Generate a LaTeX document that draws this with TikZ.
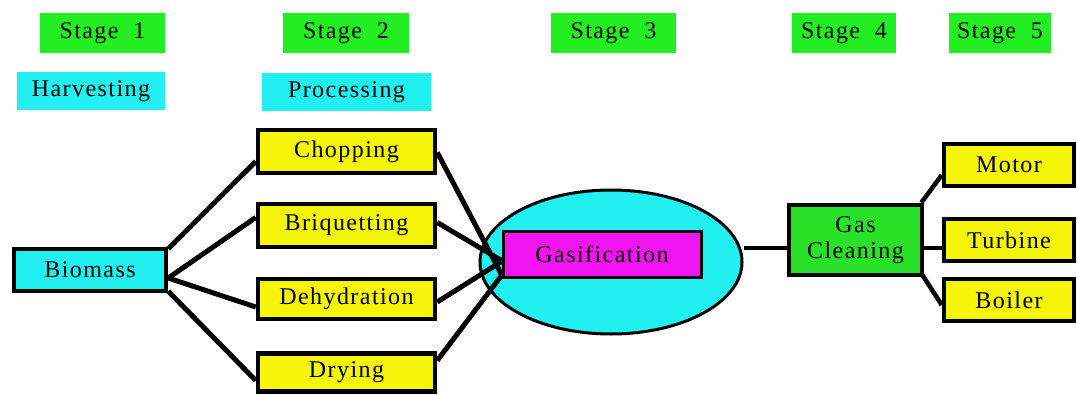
\documentclass[tikz,border=0pt]{standalone}
\usepackage{fontspec}
\setmainfont{Liberation Serif}
\newfontfamily\lblfont[LetterSpace=6]{Liberation Serif}
\usetikzlibrary{shapes.geometric}
\definecolor{stagegreen}{RGB}{34,238,34}
\definecolor{gcgreen}{RGB}{40,225,40}
\definecolor{cyanbox}{RGB}{34,240,240}
\definecolor{yelbox}{RGB}{245,245,10}
\definecolor{magbox}{RGB}{240,20,240}
\tikzset{
  lbl/.style={font=\lblfont\fontsize{24}{26}\selectfont, inner sep=0pt, align=center},
  stagebox/.style={lbl, fill=stagegreen, minimum height=40pt},
  headbox/.style={lbl, fill=cyanbox, minimum height=38pt},
  procbox/.style={lbl, fill=yelbox, draw=black, line width=4.5pt, minimum width=177pt},
  outbox/.style={lbl, fill=yelbox, draw=black, line width=4.5pt, minimum width=130pt, minimum height=42pt},
  conn/.style={line width=5pt, black}
}
\begin{document}
\begin{tikzpicture}[x=1pt,y=-1pt]
\useasboundingbox (0,0) rectangle (1078,395);
% stages
\node[stagebox, minimum width=125pt] (s1) at (102.5,33) {Stage\ \ 1};
\node[stagebox, minimum width=126pt] (s2) at (346,33) {Stage\ \ 2};
\node[stagebox, minimum width=125pt] (s3) at (613.5,33) {Stage\ \ 3};
\node[stagebox, minimum width=104pt] (s4) at (844,33) {Stage\ \ 4};
\node[stagebox, minimum width=102pt] (s5) at (1000,33) {Stage\ \ 5};
% headings
\node[headbox, minimum width=148pt] (harv) at (91,91.5) {Harvesting};
\node[headbox, minimum width=169pt] (proc) at (346.5,92.5) {Processing};
% biomass
\node[lbl, fill=cyanbox, draw=black, line width=4.5pt, minimum width=152pt, minimum height=42pt] (bio) at (90,270) {Biomass};
% processing boxes
\node[procbox, minimum height=43pt] (chop) at (346.5,151.5) {Chopping};
\node[procbox, minimum height=43pt] (briq) at (346.5,225.5) {Briquetting};
\node[procbox, minimum height=40pt] (dehy) at (346.5,299) {Dehydration};
\node[procbox, minimum height=38pt] (dry) at (346.5,372.5) {Drying};
% gasification
\node[ellipse, draw=black, line width=3pt, fill=cyanbox, minimum width=262pt, minimum height=144pt] (ell) at (611,262) {};
\node[lbl, fill=magbox, draw=black, line width=3pt, minimum width=198pt, minimum height=45pt] (gas) at (602,254.5) {Gasification};
% gas cleaning
\node[lbl, fill=gcgreen, draw=black, line width=4.5pt, minimum width=133pt, minimum height=70pt] (gc) at (855.5,240) {Gas\\Cleaning};
% outputs
\node[outbox] (motor) at (1009,165) {Motor};
\node[outbox] (turb) at (1009,240) {Turbine};
\node[outbox] (boil) at (1009,300) {Boiler};
% connectors biomass -> processing
\draw[conn] ([yshift=-2pt]bio.north east) -- ([yshift=-10pt]chop.west);
\draw[conn] ([yshift=-8pt]bio.east) -- ([yshift=8pt]briq.west);
\draw[conn] ([yshift=-8pt]bio.east) -- ([yshift=-8pt]dehy.west);
\draw[conn] ([yshift=2pt]bio.south east) -- ([yshift=-8pt]dry.west);
% processing -> gasification
\draw[conn] ([yshift=-1pt]chop.east) -- ([yshift=-20pt]gas.west);
\draw[conn] ([yshift=3pt]briq.east) -- ([yshift=-6pt]gas.west);
\draw[conn] ([yshift=-3pt]dehy.east) -- ([yshift=-7pt]gas.west);
\draw[conn] ([yshift=12pt]dry.east) -- ([yshift=-21pt]gas.west);
% gasification -> gas cleaning
\draw[line width=3.5pt] ([yshift=-8pt]gc.west) -- ([yshift=-8pt]gc.west -| ell.east);
% gas cleaning -> outputs
\draw[line width=4.5pt] ([xshift=-3pt]gc.north east) -- ([yshift=-10pt]motor.west);
\draw[line width=3.5pt] ([yshift=-8pt]gc.east) -- ([yshift=-8pt]turb.west);
\draw[line width=4.5pt] ([xshift=-3pt,yshift=4pt]gc.south east) -- ([yshift=-5pt]boil.west);
\end{tikzpicture}
\end{document}
